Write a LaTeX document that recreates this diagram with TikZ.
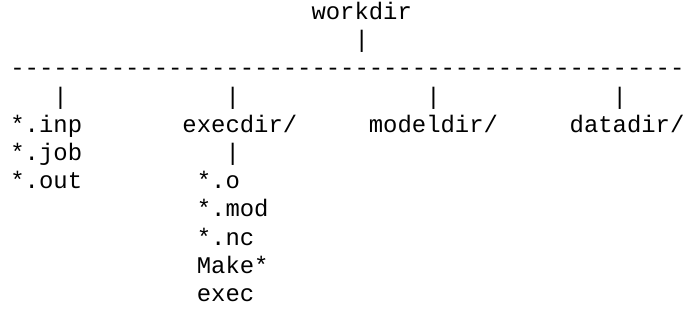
\documentclass[tikz,border=0pt]{standalone}
\usepackage{fontspec}
\setmonofont{Liberation Mono}
\usepackage{tikz}

\begin{document}
\begin{tikzpicture}[
    x=7.17pt,y=-14.1pt,
    entry/.style={anchor=base west,inner sep=0pt,font=\ttfamily\fontsize{11.95}{14.1}\selectfont}
  ]
    \useasboundingbox (-5pt,9.75pt) rectangle (337.5pt,-150.25pt);
    % top level
    \node[entry] (root) at (21,0) {workdir};
    \node[entry] (rootbar) at (24,1) {|};
    \node[entry] (rule) at (0,2) {-----------------------------------------------};
    \node[entry] (bara) at (3,3) {|};
    \node[entry] (barb) at (15,3) {|};
    \node[entry] (barc) at (29,3) {|};
    \node[entry] (bard) at (42,3) {|};
    % second level
    \node[entry] (inp) at (0,4) {*.inp};
    \node[entry] (execdir) at (12,4) {execdir/};
    \node[entry] (modeldir) at (25,4) {modeldir/};
    \node[entry] (datadir) at (39,4) {datadir/};
    \node[entry] (job) at (0,5) {*.job};
    \node[entry] (execbar) at (15,5) {|};
    \node[entry] (out) at (0,6) {*.out};
    % inside execdir
    \node[entry] (obj) at (13,6) {*.o};
    \node[entry] (mod) at (13,7) {*.mod};
    \node[entry] (nc) at (13,8) {*.nc};
    \node[entry] (make) at (13,9) {Make*};
    \node[entry] (exe) at (13,10) {exec};
  \end{tikzpicture}
\end{document}
